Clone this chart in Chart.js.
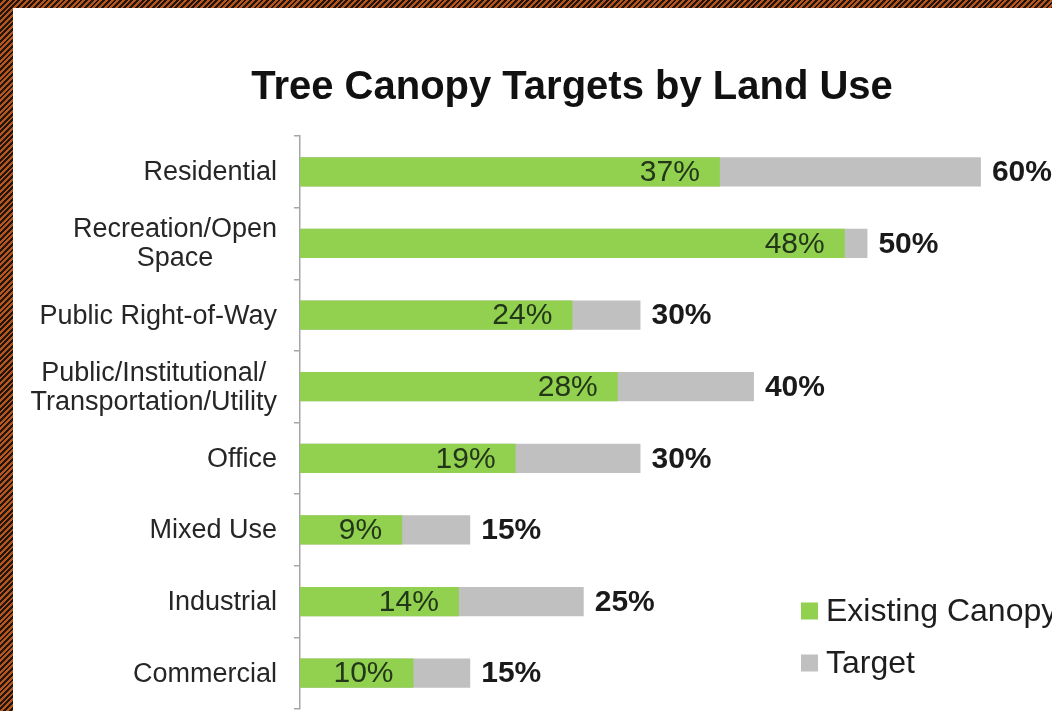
<!DOCTYPE html>
<html><head><meta charset="utf-8">
<script src="https://cdn.jsdelivr.net/npm/chart.js@4.4.1/dist/chart.umd.min.js"></script>
<style>
html,body{margin:0;padding:0;overflow:hidden;}
body{width:1052px;height:711px;position:relative;background:repeating-linear-gradient(-45deg,#24140a 0px,#24140a 2px,#b4561e 2px,#b4561e 4px);}
#paper{position:absolute;left:13px;top:8px;right:0;bottom:0;background:#fff;}
#c{position:absolute;left:0;top:0;}
</style></head><body>
<div id="paper"></div>
<canvas id="c" width="1052" height="711"></canvas>
<script>
const categories = [["Residential"],["Recreation/Open","Space"],["Public Right-of-Way"],["Public/Institutional/","Transportation/Utility"],["Office"],["Mixed Use"],["Industrial"],["Commercial"]];
const existingCanopy = [37,48,24,28,19,9,14,10];
const targetCanopy = [60,50,30,40,30,15,25,15];
const seriesNames = ["Existing Canopy","Target"];
const seriesColors = ["#92d050","#c0c0c0"];
const titleText = "Tree Canopy Targets by Land Use";

const FONT = "'Liberation Sans', Arial, sans-serif";

const annot = {
  id:'annot',
  afterDatasetsDraw(chart){
    const ctx = chart.ctx, y = chart.scales.y, area = chart.chartArea;
    ctx.save();
    // category labels (multi-line blocks centered, block right-aligned)
    ctx.font = `27px ${FONT}`; ctx.fillStyle = '#262626'; ctx.textBaseline = 'middle'; ctx.textAlign = 'center';
    const rightEdge = area.left - 23;
    chart.data.labels.forEach((lab,i)=>{
      const lines = Array.isArray(lab) ? lab : [lab];
      const w = Math.max(...lines.map(l=>ctx.measureText(l).width));
      const cx = rightEdge - w/2;
      const cy = y.getPixelForValue(i);
      const lh = 29;
      lines.forEach((l,k)=>ctx.fillText(l, cx, cy + 1 + (k-(lines.length-1)/2)*lh));
    });
    // value labels
    const m0 = chart.getDatasetMeta(0), m1 = chart.getDatasetMeta(1);
    ctx.textAlign = 'right'; ctx.font = `30px ${FONT}`; ctx.fillStyle = '#22361a';
    m0.data.forEach((b,i)=>ctx.fillText(chart.data.datasets[0].data[i]+'%', b.x-20, b.y+1));
    ctx.textAlign = 'left'; ctx.font = `bold 30px ${FONT}`; ctx.fillStyle = '#1a1a1a';
    m1.data.forEach((b,i)=>ctx.fillText(chart.data.datasets[1].data[i]+'%', b.x+11, b.y+1));
    // legend
    ctx.font = `32px ${FONT}`;
    chart.data.datasets.forEach((ds,i)=>{
      const cy = 611 + i*52;
      ctx.fillStyle = ds.backgroundColor;
      ctx.fillRect(801, cy-8.5, 17, 17);
      ctx.fillStyle = '#1e1e1e';
      ctx.fillText(ds.label, 826, cy+1);
    });
    ctx.restore();
  }
};

new Chart(document.getElementById('c'), {
  type:'bar',
  data:{
    labels:categories,
    datasets:[
      {label:seriesNames[0], data:existingCanopy, backgroundColor:seriesColors[0], grouped:false, barPercentage:0.41, categoryPercentage:1, order:0},
      {label:seriesNames[1], data:targetCanopy, backgroundColor:seriesColors[1], grouped:false, barPercentage:0.41, categoryPercentage:1, order:1}
    ]
  },
  options:{
    indexAxis:'y', responsive:false, animation:false, devicePixelRatio:1,
    layout:{padding:{left:95,right:3,top:0,bottom:2}},
    plugins:{
      legend:{display:false},
      tooltip:{enabled:false},
      title:{display:true, text:titleText, font:{family:FONT, size:40, weight:'bold'}, color:'#111', padding:{top:64,bottom:24}}
    },
    scales:{
      x:{display:false, min:0, max:66},
      y:{
        afterFit(s){ s.width = 205; },
        ticks:{display:false},
        grid:{drawOnChartArea:false, offset:true, tickLength:6, color:'#a6a6a6', lineWidth:1.5},
        border:{color:'#a6a6a6', width:1.5}
      }
    }
  },
  plugins:[annot]
});
</script>
</body></html>
